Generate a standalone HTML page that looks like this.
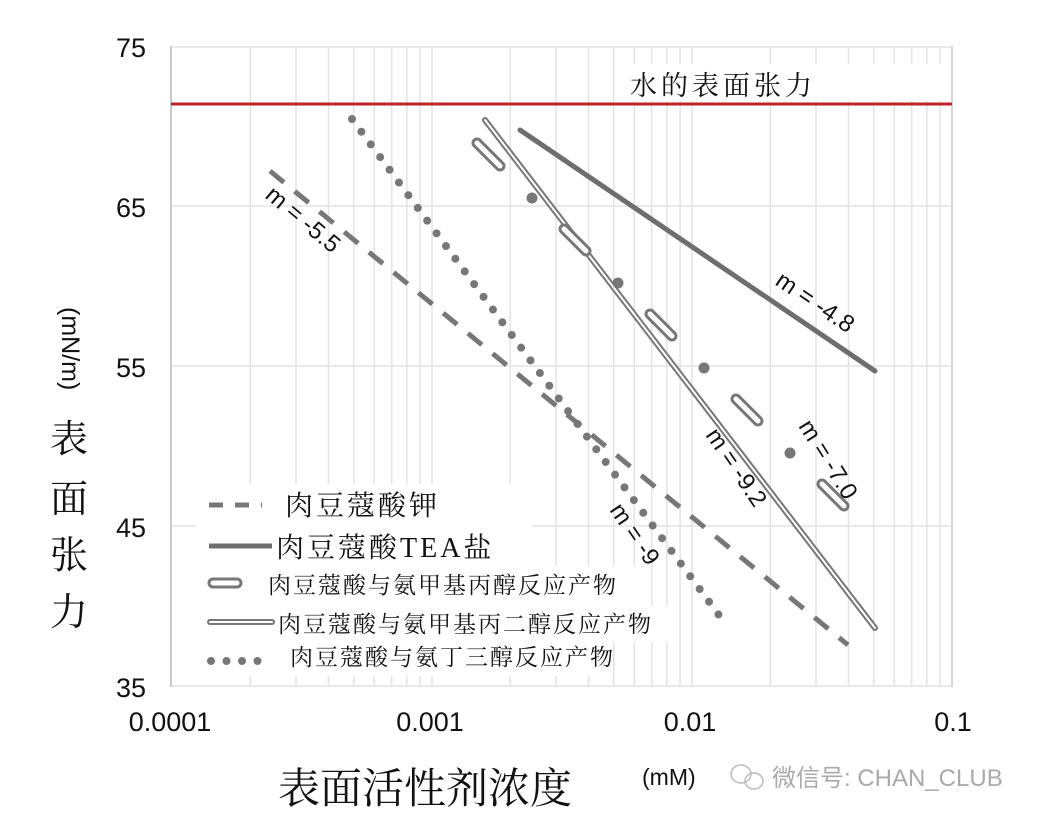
<!DOCTYPE html>
<html><head><meta charset="utf-8"><style>
html,body{margin:0;padding:0;background:#fff;}
svg{display:block;}
</style></head><body>
<svg width="1049" height="826" viewBox="0 0 1049 826" xmlns="http://www.w3.org/2000/svg">
<rect width="1049" height="826" fill="#fff"/>
<g stroke="#e3e3e3" stroke-width="1.5">
<line x1="250.3" y1="47" x2="250.3" y2="686"/><line x1="296" y1="47" x2="296" y2="686"/><line x1="328.5" y1="47" x2="328.5" y2="686"/><line x1="353.7" y1="47" x2="353.7" y2="686"/><line x1="374.3" y1="47" x2="374.3" y2="686"/><line x1="391.7" y1="47" x2="391.7" y2="686"/><line x1="406.8" y1="47" x2="406.8" y2="686"/><line x1="420.1" y1="47" x2="420.1" y2="686"/><line x1="432" y1="47" x2="432" y2="686"/>
<line x1="510.3" y1="47" x2="510.3" y2="686"/><line x1="556" y1="47" x2="556" y2="686"/><line x1="588.5" y1="47" x2="588.5" y2="686"/><line x1="613.7" y1="47" x2="613.7" y2="686"/><line x1="634.3" y1="47" x2="634.3" y2="686"/><line x1="651.7" y1="47" x2="651.7" y2="686"/><line x1="666.8" y1="47" x2="666.8" y2="686"/><line x1="680.1" y1="47" x2="680.1" y2="686"/><line x1="692" y1="47" x2="692" y2="686"/>
<line x1="770.3" y1="47" x2="770.3" y2="686"/><line x1="816" y1="47" x2="816" y2="686"/><line x1="848.5" y1="47" x2="848.5" y2="686"/><line x1="873.7" y1="47" x2="873.7" y2="686"/><line x1="894.3" y1="47" x2="894.3" y2="686"/><line x1="911.7" y1="47" x2="911.7" y2="686"/><line x1="926.8" y1="47" x2="926.8" y2="686"/><line x1="940.1" y1="47" x2="940.1" y2="686"/>
<line x1="171" y1="47" x2="952" y2="47"/><line x1="171" y1="206" x2="952" y2="206"/><line x1="171" y1="366" x2="952" y2="366"/><line x1="171" y1="526" x2="952" y2="526"/><line x1="171" y1="686" x2="952" y2="686"/>
</g>
<line x1="171" y1="46" x2="171" y2="687" stroke="#c8c8c8" stroke-width="2"/>
<line x1="952" y1="46" x2="952" y2="687" stroke="#d8d8d8" stroke-width="2"/>
<rect x="620" y="64" width="330" height="37" fill="#fff"/>
<line x1="171" y1="104" x2="952" y2="104" stroke="#c0212b" stroke-width="3"/>
<text x="630" y="95" font-family="Liberation Serif, Noto Serif CJK SC, serif" font-size="27" letter-spacing="4" fill="#111">水的表面张力</text>

<line x1="270" y1="171" x2="848" y2="645" stroke="#777" stroke-width="5" stroke-dasharray="18,14"/>
<line x1="520" y1="130" x2="875" y2="371" stroke="#6e6e6e" stroke-width="5" stroke-linecap="round"/>
<line x1="485" y1="120" x2="875" y2="628" stroke="#777" stroke-width="6" stroke-linecap="round"/>
<line x1="485" y1="120" x2="875" y2="628" stroke="#fff" stroke-width="2" stroke-linecap="round"/>
<line x1="352" y1="119" x2="727" y2="626" stroke="#777" stroke-width="8" stroke-linecap="round" stroke-dasharray="0,15.8"/>
<g stroke-linecap="round">
<g stroke="#777" stroke-width="11"><line x1="477" y1="143" x2="500" y2="166"/><line x1="564" y1="229" x2="586" y2="251"/><line x1="650" y1="314" x2="672" y2="336"/><line x1="736" y1="399" x2="758" y2="421"/><line x1="822" y1="484" x2="844" y2="506"/></g>
<g stroke="#fff" stroke-width="5"><line x1="477" y1="143" x2="500" y2="166"/><line x1="564" y1="229" x2="586" y2="251"/><line x1="650" y1="314" x2="672" y2="336"/><line x1="736" y1="399" x2="758" y2="421"/><line x1="822" y1="484" x2="844" y2="506"/></g>
</g>
<g fill="#777"><circle cx="532" cy="198" r="5.5"/><circle cx="618" cy="283" r="5.5"/><circle cx="704" cy="368" r="5.5"/><circle cx="790" cy="453" r="5.5"/></g>

<g font-family="Liberation Sans, sans-serif" font-size="24" fill="#111">
<text transform="translate(264,197) rotate(40)">m = -5.5</text>
<text transform="translate(774,284) rotate(34)">m = -4.8</text>
<text transform="translate(798,426) rotate(58)">m = -7.0</text>
<text transform="translate(705,435) rotate(56)">m = -9.2</text>
<text transform="translate(609,510) rotate(56)">m = -9</text>
</g>

<rect x="196" y="484" width="336" height="82" fill="#fff"/>
<rect x="196" y="566" width="444" height="40" fill="#fff"/>
<rect x="196" y="606" width="472" height="36" fill="#fff"/>
<rect x="196" y="642" width="410" height="34" fill="#fff"/>
<g font-family="Liberation Serif, Noto Serif CJK SC, serif" fill="#111">
<line x1="209" y1="505" x2="262" y2="505" stroke="#777" stroke-width="5" stroke-dasharray="14,12"/>
<text x="285" y="515" font-size="28" letter-spacing="3">肉豆蔻酸钾</text>
<line x1="209" y1="546" x2="272" y2="546" stroke="#6e6e6e" stroke-width="5"/>
<text x="276" y="557" font-size="28" letter-spacing="3">肉豆蔻酸TEA盐</text>
<line x1="213" y1="583" x2="237" y2="583" stroke="#777" stroke-width="11" stroke-linecap="round"/>
<line x1="213" y1="583" x2="237" y2="583" stroke="#fff" stroke-width="5" stroke-linecap="round"/>
<text x="268" y="593" font-size="23" letter-spacing="2">肉豆蔻酸与氨甲基丙醇反应产物</text>
<line x1="210" y1="622" x2="272" y2="622" stroke="#777" stroke-width="6" stroke-linecap="round"/>
<line x1="210" y1="622" x2="272" y2="622" stroke="#fff" stroke-width="2" stroke-linecap="round"/>
<text x="278" y="632" font-size="23" letter-spacing="2">肉豆蔻酸与氨甲基丙二醇反应产物</text>
<line x1="211" y1="661" x2="258" y2="661" stroke="#777" stroke-width="8" stroke-linecap="round" stroke-dasharray="0,15.5"/>
<text x="290" y="665" font-size="23" letter-spacing="2">肉豆蔻酸与氨丁三醇反应产物</text>
</g>

<g font-family="Liberation Sans, sans-serif" font-size="27" fill="#111" text-anchor="end">
<text x="146" y="57">75</text><text x="146" y="217">65</text><text x="146" y="377">55</text><text x="146" y="537">45</text><text x="146" y="697">35</text>
</g>
<g font-family="Liberation Sans, sans-serif" font-size="27" fill="#111" text-anchor="middle">
<text x="170" y="731">0.0001</text><text x="430" y="731">0.001</text><text x="690" y="731">0.01</text><text x="953" y="731">0.1</text>
</g>
<text transform="translate(62,307) rotate(90)" font-family="Liberation Sans, sans-serif" font-size="25" fill="#111">(mN/m)</text>
<g font-family="Liberation Serif, Noto Serif CJK SC, serif" font-size="38" fill="#111" text-anchor="middle">
<text x="69" y="452">表</text><text x="69" y="512">面</text><text x="69" y="568">张</text><text x="69" y="625">力</text>
</g>
<text x="278" y="803" font-family="Liberation Serif, Noto Serif CJK SC, serif" font-size="42" fill="#111">表面活性剂浓度</text>
<text x="642" y="785" font-family="Liberation Sans, sans-serif" font-size="23" fill="#111">(mM)</text>
<g fill="none" stroke="#bbb" stroke-width="1.5"><ellipse cx="741" cy="774" rx="10" ry="9"/><ellipse cx="754" cy="781" rx="9" ry="8"/></g>
<text x="772" y="786" font-family="Liberation Sans, Noto Sans CJK SC, sans-serif" font-size="24" fill="#aaa">微信号: CHAN_CLUB</text>
</svg>
</body></html>
